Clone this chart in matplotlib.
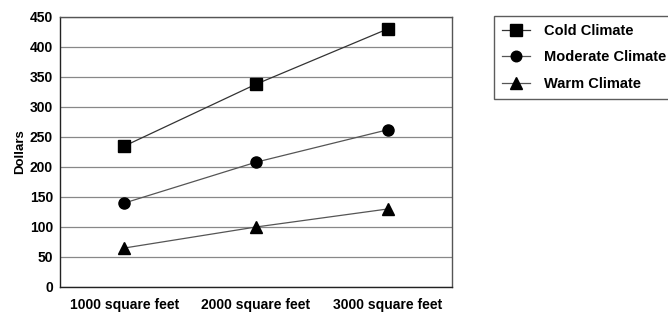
import matplotlib
matplotlib.use("Agg")
import matplotlib.pyplot as plt

plt.rcParams['font.family'] = ['Liberation Sans', 'DejaVu Sans']
plt.rcParams['font.weight'] = 'bold'

# Data
categories = ["1000 square feet", "2000 square feet", "3000 square feet"]
cold = [235, 338, 430]
moderate = [140, 208, 262]
warm = [65, 100, 130]
series_names = ["Cold Climate", "Moderate Climate", "Warm Climate"]
yticks = [0, 50, 100, 150, 200, 250, 300, 350, 400, 450]

fig = plt.figure(figsize=(6.68, 3.12), dpi=100)
ax = fig.add_axes([60 / 668, 1 - 287 / 312, 392 / 668, 270 / 312])

x = range(len(categories))
ax.plot(x, cold, color="#333333", lw=0.9, marker="s", ms=8.5,
        mfc="black", mec="black", label=series_names[0])
ax.plot(x, moderate, color="#555555", lw=0.9, marker="o", ms=8,
        mfc="black", mec="black", label=series_names[1])
ax.plot(x, warm, color="#555555", lw=0.9, marker="^", ms=9,
        mfc="black", mec="black", label=series_names[2])

ax.set_xlim(-0.49, 2.49)
ax.set_ylim(0, 450)
ax.set_yticks(yticks)
ax.set_xticks(list(x))
ax.set_xticklabels(categories)
ax.tick_params(axis="both", length=0, labelsize=10, pad=5)
ax.tick_params(axis="x", pad=8)
ax.grid(axis="y", color="#888888", lw=0.9)
ax.set_axisbelow(True)
for side in ["top", "right"]:
    ax.spines[side].set_color("#555555")
for side in ["left", "bottom"]:
    ax.spines[side].set_color("#222222")
for s in ax.spines.values():
    s.set_linewidth(1.0)

ax.set_ylabel("Dollars", fontsize=9.5, fontweight="bold", labelpad=3)

# legend box runs past the right edge of the figure, as in the reference
leg = fig.legend(loc="upper left", bbox_to_anchor=(494 / 668, 1 - 16 / 312),
                 frameon=True, fancybox=False, fontsize=10.5,
                 borderpad=0.55, labelspacing=0.85, handlelength=1.9,
                 handletextpad=1.0, borderaxespad=0, markerscale=0.95)
leg.get_frame().set_edgecolor("#333333")
leg.get_frame().set_linewidth(1.0)

fig.savefig("out.png", dpi=100)
